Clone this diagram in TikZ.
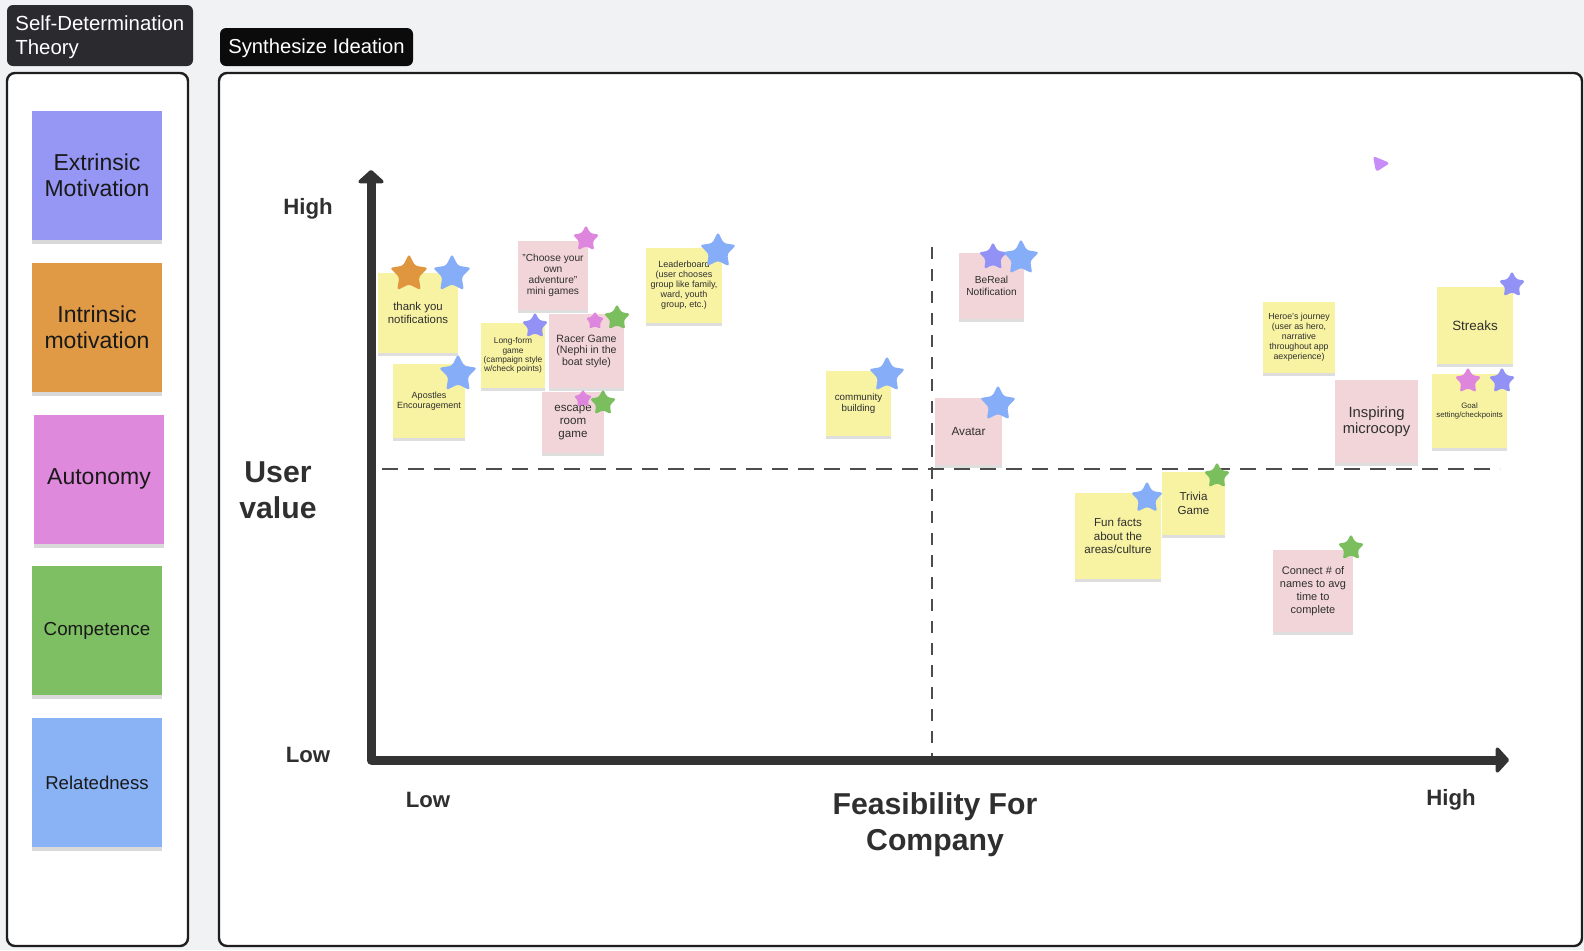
\documentclass[tikz,border=0pt]{standalone}
\usepackage{fontspec}
\setmainfont{Liberation Sans}
\usetikzlibrary{arrows.meta,shapes.geometric,fit,shadows}
\definecolor{bg}{HTML}{F1F2F4}
\definecolor{panelborder}{HTML}{1E1E1E}
\definecolor{titledark}{HTML}{2B2B2F}
\definecolor{titleblack}{HTML}{0B0B0B}
\definecolor{cExt}{HTML}{9696F5}
\definecolor{cInt}{HTML}{E09A45}
\definecolor{cAut}{HTML}{DE89DC}
\definecolor{cCom}{HTML}{7EBF63}
\definecolor{cRel}{HTML}{8AB3F6}
\definecolor{sYellow}{HTML}{F8F3A2}
\definecolor{sPink}{HTML}{F2D5D8}
\definecolor{axisc}{HTML}{333333}
\definecolor{dashc}{HTML}{4D4D4D}
\definecolor{txt}{HTML}{2F2F2F}
\definecolor{triC}{HTML}{C78CF7}
\definecolor{stOrange}{HTML}{E0963E}
\definecolor{stBlue}{HTML}{86AEF8}
\definecolor{stPurple}{HTML}{9191F6}
\definecolor{stPink}{HTML}{DE86DD}
\definecolor{stGreen}{HTML}{7BBE5E}
\newcommand\fsz[2]{\fontsize{#1pt}{#2pt}\selectfont}
\begin{document}
\begin{tikzpicture}[x=0.5pt,y=-0.5pt,
  panel/.style={draw=panelborder, line width=1.2pt, rounded corners=4pt, fill=white, inner sep=0pt},
  titlebox/.style={rounded corners=3pt, inner sep=0pt},
  titletext/.style={text=white, align=left, anchor=west, inner sep=0pt},
  note/.style={inner sep=0pt, align=center, text=txt, drop shadow={shadow xshift=0pt, shadow yshift=-1.5pt, opacity=0.13, fill=black}},
  ynote/.style={note, fill=sYellow},
  pnote/.style={note, fill=sPink},
  lnote/.style={inner sep=0pt, align=center, text=black!90, minimum width=65pt, minimum height=64.5pt, drop shadow={shadow xshift=0pt, shadow yshift=-2pt, opacity=0.15, fill=black}},
  starn/.style={star, star points=5, star point ratio=1.95, inner sep=0pt, rounded corners=1.3pt, draw=none},
  axis/.style={line width=4.5pt, draw=axisc, line join=round, {Triangle[width=15pt,length=7pt,round]}-{Triangle[width=15pt,length=7pt,round]}},
  hdash/.style={draw=dashc, line width=1pt, dash pattern=on 8pt off 5pt},
  vdash/.style={draw=dashc, line width=1pt, dash pattern=on 6pt off 5pt},
  axlabel/.style={text=txt, font=\bfseries\fsz{11.1}{13}, inner sep=0pt},
  axtitle/.style={text=txt, font=\bfseries\fsz{15.1}{18}, align=center, inner sep=0pt}
]
\fill[bg] (0,0) rectangle (1584,950);
\useasboundingbox (0,0) rectangle (1584,950);

% titles
\node[titlebox, fill=titledark, fit={(7,5) (193,66)}] (sdtBox) {};
\node[titletext, font=\fsz{10.2}{12}] (sdtText) at (15,37.5) {Self-Determination\\Theory};
\node[titlebox, fill=titleblack, fit={(220,28) (413,66)}] (synBox) {};
\node[titletext, font=\fsz{10.1}{12}] (synText) at (228,48) {Synthesize Ideation};

% panels
\node[panel, fit={(7,73) (188,946)}] (leftPanel) {};
\node[panel, fit={(219,73) (1582,946)}] (mainPanel) {};

% left legend notes
\node[lnote, fill=cExt, font=\fsz{11.5}{13.1}] (ext) at (97,175) {Extrinsic\\Motivation};
\node[lnote, fill=cInt, font=\fsz{11.5}{13.1}] (int) at (97,327.5) {Intrinsic\\motivation};
\node[lnote, fill=cAut, font=\fsz{11.5}{13.1}] (aut) at (99,479) {Autonomy};
\node[lnote, fill=cCom, font=\fsz{9.4}{11}] (com) at (97,630.5) {Competence};
\node[lnote, fill=cRel, font=\fsz{9.3}{11}] (rel) at (97,782.5) {Relatedness};

% dashed quadrant lines
\coordinate (hL) at (382,469);
\coordinate (hR) at (1500,469);
\coordinate (vT) at (932,247);
\coordinate (vB) at (932,758);
\draw[hdash] (hL) -- (hR);
\draw[vdash] (vT) -- (vB);

% axes
\coordinate (ytop) at (371,170);
\coordinate (orig) at (371,760);
\coordinate (xend) at (1509,760);
\draw[axis] (ytop) -- (orig) -- (xend);

% axis labels
\node[axlabel] (yHigh) at (308,209) {High};
\node[axlabel] (yLow) at (308,755) {Low};
\node[axtitle] (yTitle) at (278,490) {User\\value};
\node[axlabel] (xLow) at (428,800) {Low};
\node[axtitle] (xTitle) at (935,825) {Feasibility For\\Company};
\node[axlabel] (xHigh) at (1451,800) {High};

% sticky notes
\node[ynote, minimum width=40pt, minimum height=40pt, font=\fsz{5.7}{6.6}] (thank) at (418,313) {thank you\\notifications};
\node[ynote, minimum width=36pt, minimum height=37pt, font=\fsz{4.5}{5.1}] (apostles) at (429,401) {Apostles\\Encouragement};
\node[ynote, minimum width=32pt, minimum height=32.5pt, font=\fsz{4.2}{4.6}] (longform) at (513,355.5) {Long-form\\game\\(campaign style\\w/check points)};
\node[pnote, minimum width=35pt, minimum height=34.5pt, font=\fsz{5.1}{5.6}] (choose) at (553,275.5) {"Choose your\\own\\adventure"\\mini games};
\node[pnote, minimum width=37.5pt, minimum height=37pt, font=\fsz{5.3}{5.8}] (racer) at (586.5,351) {Racer Game\\(Nephi in the\\boat style)};
\node[pnote, minimum width=31pt, minimum height=30.5pt, font=\fsz{5.8}{6.6}] (escape) at (573,422.5) {escape\\room\\game};
\node[ynote, minimum width=38pt, minimum height=37.5pt, font=\fsz{4.5}{5}] (leader) at (684,285.5) {Leaderboard\\(user chooses\\group like family,\\ward, youth\\group, etc.)};
\node[ynote, minimum width=32.5pt, minimum height=32.5pt, font=\fsz{4.9}{5.6}] (community) at (858.5,403.5) {community\\building};
\node[pnote, minimum width=32.5pt, minimum height=33pt, font=\fsz{5.1}{5.8}] (bereal) at (991.5,286) {BeReal\\Notification};
\node[pnote, minimum width=33.5pt, minimum height=33.5pt, font=\fsz{5.9}{6.8}] (avatar) at (968.5,431.5) {Avatar};
\node[ynote, minimum width=31.5pt, minimum height=31.5pt, font=\fsz{5.8}{7}] (trivia) at (1193.5,503.5) {Trivia\\Game};
\node[ynote, minimum width=43pt, minimum height=43pt, font=\fsz{5.8}{6.6}] (funfacts) at (1118,536) {Fun facts\\about the\\areas/culture};
\node[pnote, minimum width=40pt, minimum height=41pt, font=\fsz{5.5}{6.5}] (connect) at (1313,591) {Connect \# of\\names to avg\\time to\\complete};
\node[ynote, minimum width=36pt, minimum height=35.5pt, font=\fsz{4.4}{4.95}] (heroe) at (1299,337.5) {Heroe's journey\\(user as hero,\\narrative\\throughout app\\aexperience)};
\node[pnote, minimum width=41.5pt, minimum height=41.5pt, font=\fsz{7.4}{8.3}] (inspiring) at (1376.5,421.5) {Inspiring\\microcopy};
\node[ynote, minimum width=38pt, minimum height=38.5pt, font=\fsz{6.7}{8}] (streaks) at (1475,325.5) {Streaks};
\node[ynote, minimum width=37.5pt, minimum height=37pt, font=\fsz{3.9}{4.5}] (goal) at (1469.5,411) {Goal\\setting/checkpoints};

% stars
\node[starn, fill=stOrange, minimum size=20pt] (st1) at (409,274) {};
\node[starn, fill=stBlue, minimum size=20pt] (st2) at (452,274) {};
\node[starn, fill=stBlue, minimum size=20pt] (st3) at (458,374) {};
\node[starn, fill=stPurple, minimum size=14pt] (st4) at (535,326) {};
\node[starn, fill=stPink, minimum size=14pt] (st5) at (586,239) {};
\node[starn, fill=stPink, minimum size=10pt] (st6) at (595,321) {};
\node[starn, fill=stGreen, minimum size=14pt] (st7) at (617,318) {};
\node[starn, fill=stPink, minimum size=10pt] (st8) at (583,399) {};
\node[starn, fill=stGreen, minimum size=14pt] (st9) at (603,403) {};
\node[starn, fill=stBlue, minimum size=19pt] (st10) at (718,251) {};
\node[starn, fill=stBlue, minimum size=19pt] (st11) at (887,375) {};
\node[starn, fill=stPurple, minimum size=15pt] (st12) at (993,257) {};
\node[starn, fill=stBlue, minimum size=19pt] (st13) at (1021,258) {};
\node[starn, fill=stBlue, minimum size=19pt] (st14) at (998,404) {};
\node[starn, fill=stBlue, minimum size=17pt] (st15) at (1147,498) {};
\node[starn, fill=stGreen, minimum size=14pt] (st16) at (1217,476) {};
\node[starn, fill=stGreen, minimum size=14pt] (st17) at (1351,548) {};
\node[starn, fill=stPurple, minimum size=14pt] (st18) at (1512,285) {};
\node[starn, fill=stPink, minimum size=14pt] (st19) at (1468,381) {};
\node[starn, fill=stPurple, minimum size=14pt] (st20) at (1502,381) {};

% purple cursor triangle
\fill[triC, rounded corners=1.5pt] (1373,156) -- (1390,163) -- (1376,172) -- cycle;
\end{tikzpicture}
\end{document}
